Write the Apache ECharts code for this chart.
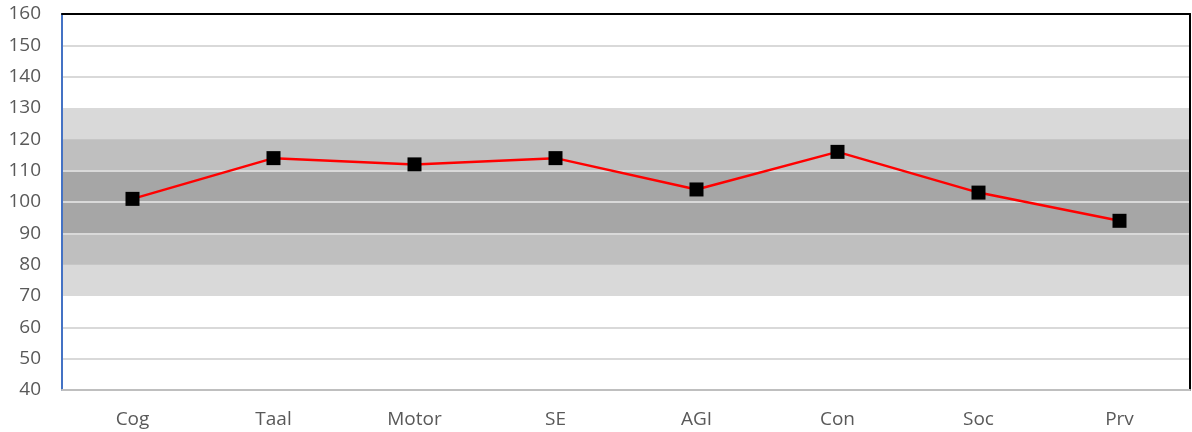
<!DOCTYPE html>
<html>
<head>
<meta charset="utf-8">
<script src="https://cdn.jsdelivr.net/npm/echarts@6/dist/echarts.min.js"></script>
<style>
  html, body { margin: 0; padding: 0; background: #fff; }
  #main { width: 1192px; height: 432px; }
</style>
</head>
<body>
<div id="main"></div>
<script>
// categorieën en scores
var categories = ['Cog', 'Taal', 'Motor', 'SE', 'AGI', 'Con', 'Soc', 'Prv'];
var scores = [101, 114, 112, 114, 104, 116, 103, 94];

// y-as
var yMin = 40;
var yMax = 160;
var yStep = 10;

// grijze banden (van, tot)
var bandOuter = [70, 130];
var bandMiddle = [80, 120];
var bandInner = [90, 110];

// hulplijnen over de banden
var gridValues = [50, 60, 90, 100, 110, 140, 150];

var myChart = echarts.init(document.getElementById('main'));

var gridLines = [];
for (var i = 0; i < gridValues.length; i++) {
    gridLines.push({ yAxis: gridValues[i] });
}

var option = {
    animation: false,
    grid: {
        left: 62,
        right: 2,
        top: 14,
        bottom: 42
    },
    xAxis: [
        {
            type: 'category',
            data: categories,
            boundaryGap: true,
            z: 10,
            axisLine: { show: true, lineStyle: { color: '#bfbfbf', width: 2 } },
            axisTick: { show: false },
            axisLabel: {
                color: '#595959',
                fontSize: 19,
                fontFamily: 'Open Sans',
                margin: 20
            }
        },
        {
            type: 'category',
            position: 'top',
            data: categories,
            z: 10,
            axisLine: { show: true, lineStyle: { color: '#000', width: 2 } },
            axisTick: { show: false },
            axisLabel: { show: false }
        }
    ],
    yAxis: [
        {
            type: 'value',
            min: yMin,
            max: yMax,
            interval: yStep,
            z: 10,
            axisLine: { show: true, lineStyle: { color: '#4472c4', width: 2 } },
            axisTick: { show: false },
            axisLabel: {
                color: '#595959',
                fontSize: 19,
                fontFamily: 'Open Sans',
                margin: 21
            },
            splitLine: { show: false }
        },
        {
            type: 'value',
            position: 'right',
            min: yMin,
            max: yMax,
            interval: yStep,
            z: 10,
            axisLine: { show: true, lineStyle: { color: '#000', width: 2 } },
            axisTick: { show: false },
            axisLabel: { show: false },
            splitLine: { show: false }
        }
    ],
    series: [
        {
            // banden
            type: 'line',
            data: [],
            z: 0,
            silent: true,
            markArea: {
                silent: true,
                data: [
                    [{ yAxis: bandOuter[0], itemStyle: { color: '#d9d9d9' } }, { yAxis: bandOuter[1] }],
                    [{ yAxis: bandMiddle[0], itemStyle: { color: '#bfbfbf' } }, { yAxis: bandMiddle[1] }],
                    [{ yAxis: bandInner[0], itemStyle: { color: '#a6a6a6' } }, { yAxis: bandInner[1] }]
                ]
            }
        },
        {
            // hulplijnen
            type: 'line',
            data: [],
            z: 1,
            silent: true,
            markLine: {
                silent: true,
                symbol: 'none',
                label: { show: false },
                lineStyle: { color: '#d9d9d9', type: 'solid', width: 2 },
                data: gridLines
            }
        },
        {
            type: 'line',
            data: scores,
            z: 5,
            symbol: 'rect',
            symbolSize: 14,
            itemStyle: { color: '#000' },
            lineStyle: { color: '#ff0000', width: 2.5 }
        }
    ]
};

myChart.setOption(option);
</script>
</body>
</html>
